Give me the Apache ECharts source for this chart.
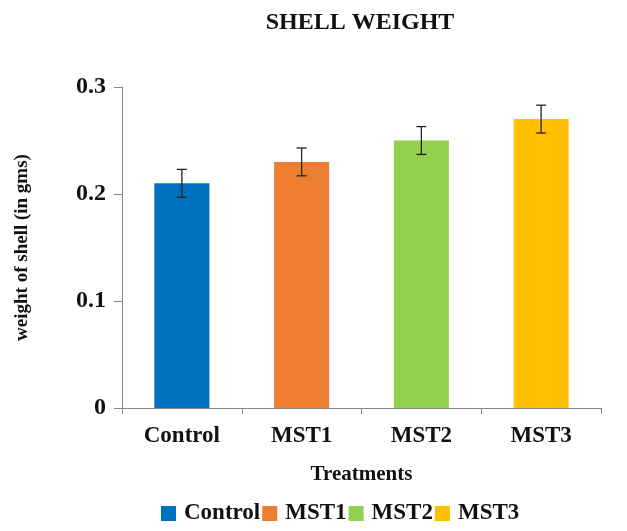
<!DOCTYPE html>
<html>
<head>
<meta charset="utf-8">
<script src="https://cdn.jsdelivr.net/npm/echarts@6/dist/echarts.min.js"></script>
<style>html,body{margin:0;padding:0;background:#fff}#c{width:627px;height:531px}</style>
</head>
<body>
<div id="c"></div>
<script>
const categories = ['Control', 'MST1', 'MST2', 'MST3'];
const values = [0.21, 0.23, 0.25, 0.27];
const errors = [0.013, 0.013, 0.013, 0.013];
const colors = ['#0070C0', '#ED7D31', '#92D050', '#FFC000'];
const yTicks = [0, 0.1, 0.2, 0.3];

const font = '"Liberation Serif", "Times New Roman", serif';
const chart = echarts.init(document.getElementById('c'));

const barSeries = categories.map((name, i) => ({
  name: name,
  type: 'bar',
  stack: 'all',
  barWidth: '46%',
  itemStyle: { color: colors[i] },
  data: categories.map((c, j) => (j === i ? values[j] : null))
}));

const errSeries = {
  type: 'custom',
  name: 'err',
  z: 10,
  data: categories.map((c, i) => [i, values[i] - errors[i], values[i] + errors[i]]),
  renderItem: function (params, api) {
    const x = api.value(0);
    const lo = api.coord([x, api.value(1)]);
    const hi = api.coord([x, api.value(2)]);
    const w = 5;
    const style = { stroke: '#222', lineWidth: 1.3 };
    return {
      type: 'group',
      children: [
        { type: 'line', shape: { x1: lo[0], y1: lo[1], x2: hi[0], y2: hi[1] }, style: style },
        { type: 'line', shape: { x1: lo[0] - w, y1: lo[1], x2: lo[0] + w, y2: lo[1] }, style: style },
        { type: 'line', shape: { x1: hi[0] - w, y1: hi[1], x2: hi[0] + w, y2: hi[1] }, style: style }
      ]
    };
  }
};

chart.setOption({
  animation: false,
  title: {
    text: 'SHELL WEIGHT',
    left: 355,
    textAlign: 'center',
    top: 6,
    textStyle: { fontFamily: font, fontWeight: 'bold', fontSize: 24, color: '#111' }
  },
  legend: {
    data: categories,
    bottom: 1,
    left: 156,
    itemWidth: 15,
    itemHeight: 15,
    itemGap: 2,
    icon: 'rect',
    textStyle: { fontFamily: font, fontWeight: 'bold', fontSize: 23, color: '#111', padding: [0, 0, 0, 3] }
  },
  grid: { left: 122, right: 26, top: 87, bottom: 123 },
  xAxis: {
    type: 'category',
    data: categories,
    name: 'Treatments',
    nameLocation: 'middle',
    nameGap: 56,
    nameTextStyle: { fontFamily: font, fontWeight: 'bold', fontSize: 21, color: '#111' },
    axisLine: { lineStyle: { color: '#888' } },
    axisTick: { show: true, length: 6, lineStyle: { color: '#888' } },
    axisLabel: { fontFamily: font, fontWeight: 'bold', fontSize: 23, color: '#111', margin: 17 }
  },
  yAxis: {
    type: 'value',
    min: 0,
    max: 0.3,
    interval: 0.1,
    name: 'weight of shell (in gms)',
    nameLocation: 'middle',
    nameGap: 90,
    nameRotate: 90,
    nameTextStyle: { fontFamily: font, fontWeight: 'bold', fontSize: 19, color: '#111' },
    splitLine: { show: false },
    axisLine: { show: true, lineStyle: { color: '#888' } },
    axisTick: { show: true, length: 8, lineStyle: { color: '#888' } },
    axisLabel: {
      fontFamily: font, fontWeight: 'bold', fontSize: 24, color: '#111', margin: 16,
      formatter: v => (yTicks.includes(Math.round(v * 10) / 10) ? (v === 0 ? '0' : v.toFixed(1)) : '')
    }
  },
  series: barSeries.concat([errSeries])
});
</script>
</body>
</html>
